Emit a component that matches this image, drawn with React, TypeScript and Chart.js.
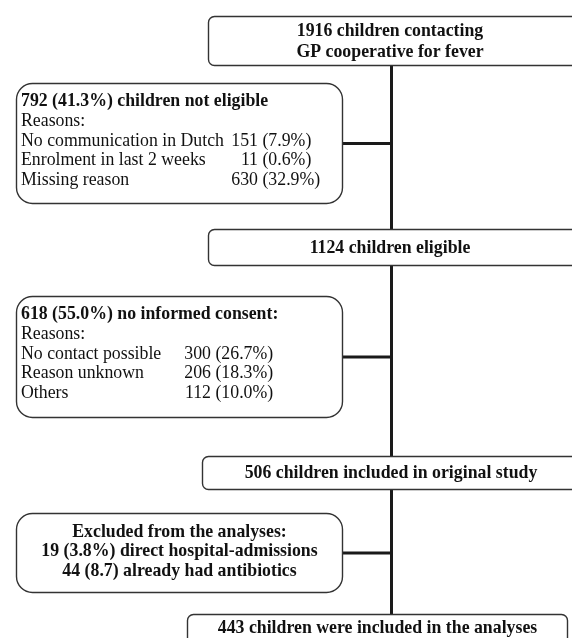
import React, { useEffect, useRef } from "react";
import { Chart, registerables } from "chart.js";

Chart.register(...registerables);

// ---- data ----
const stageCounts = [1916, 1124, 506, 443];
const stageLabels = [
  ["children contacting", "GP cooperative for fever"],
  ["children eligible"],
  ["children included in original study"],
  ["children were included in the analyses"],
];

const notEligibleTotal = 792;
const notEligiblePct = "41.3";
const notEligibleReasons = ["No communication in Dutch", "Enrolment in last 2 weeks", "Missing reason"];
const notEligibleCounts = [151, 11, 630];
const notEligiblePcts = ["7.9", "0.6", "32.9"];

const noConsentTotal = 618;
const noConsentPct = "55.0";
const noConsentReasons = ["No contact possible", "Reason unknown", "Others"];
const noConsentCounts = [300, 206, 112];
const noConsentPcts = ["26.7", "18.3", "10.0"];

const excludedTitle = "Excluded from the analyses:";
const excludedLabels = ["direct hospital-admissions", "already had antibiotics"];
const excludedCounts = [19, 44];
const excludedPcts = ["3.8%", "8.7"];

// ---- layout (canvas units on the hidden linear scales) ----
const W = 572;
const H = 638;
const TRUNK_X = 391.5;
const mainBoxes = [
  { x0: 208.5, x1: 600, y0: 16.5, y1: 65.5, r: 6, tx: 390 },
  { x0: 208.5, x1: 600, y0: 229.5, y1: 265.5, r: 6, tx: 390 },
  { x0: 202.5, x1: 600, y0: 456.5, y1: 489.5, r: 6, tx: 391 },
  { x0: 187.5, x1: 567.5, y0: 614.5, y1: 670, r: 6, tx: 377.5 },
];
const sideBoxes = [
  { x0: 16.5, x1: 342.5, y0: 83.5, y1: 203.5, r: 16 },
  { x0: 16.5, x1: 342.5, y0: 296.5, y1: 417.5, r: 16 },
  { x0: 16.5, x1: 342.5, y0: 513.5, y1: 592.5, r: 16 },
];

const SERIF = '"Liberation Serif", "Times New Roman", Times, serif';
const FS = 17.8;
const LH = 19.75;

export default function App() {
  const ref = useRef<HTMLCanvasElement>(null);

  useEffect(() => {
    const canvas = ref.current;
    if (!canvas) return;

    const flowPlugin = {
      id: "flowBoxes",
      afterDatasetsDraw(chart: any) {
        const { ctx, scales } = chart;
        const sx = scales.x;
        const sy = scales.y;
        const px = (v: number) => sx.getPixelForValue(v);
        const py = (v: number) => sy.getPixelForValue(v);

        ctx.save();
        const drawBox = (b: any) => {
          const x = px(b.x0);
          const y = py(b.y0);
          const w = px(b.x1) - x;
          const h = py(b.y1) - y;
          ctx.beginPath();
          ctx.roundRect(x, y, w, h, b.r);
          ctx.fillStyle = "#ffffff";
          ctx.fill();
          ctx.lineWidth = 1.4;
          ctx.strokeStyle = "#333333";
          ctx.stroke();
        };
        mainBoxes.forEach(drawBox);
        sideBoxes.forEach(drawBox);

        ctx.fillStyle = "#111111";
        ctx.textBaseline = "middle";
        const bold = `bold ${FS}px ${SERIF}`;
        const reg = `${FS}px ${SERIF}`;

        // main boxes
        ctx.font = bold;
        ctx.textAlign = "center";
        stageLabels.forEach((lines, i) => {
          const b = mainBoxes[i];
          const cy = i === 3 ? 628 : (b.y0 + b.y1) / 2 + 0.5;
          const texts = lines.map((l, j) => (j === 0 ? `${stageCounts[i]} ${l}` : l));
          const n = texts.length;
          texts.forEach((t, j) => {
            const yy = cy + (j - (n - 1) / 2) * 21;
            ctx.fillText(t, px(b.tx), py(yy));
          });
        });

        // reason boxes
        const drawReasons = (
          b: any,
          total: number,
          pct: string,
          titleTail: string,
          labels: string[],
          counts: number[],
          pcts: string[],
          countRight: number
        ) => {
          const left = b.x0 + 4.5;
          let y = b.y0 + 18;
          ctx.textAlign = "left";
          ctx.font = bold;
          ctx.fillText(`${total} (${pct}%) ${titleTail}`, px(left), py(y));
          ctx.font = reg;
          y += LH;
          ctx.fillText("Reasons:", px(left), py(y));
          labels.forEach((l, i) => {
            y += LH;
            ctx.textAlign = "left";
            ctx.fillText(l, px(left), py(y));
            ctx.textAlign = "right";
            ctx.fillText(String(counts[i]), px(countRight), py(y));
            ctx.textAlign = "left";
            ctx.fillText(` (${pcts[i]}%)`, px(countRight), py(y));
          });
        };
        drawReasons(sideBoxes[0], notEligibleTotal, notEligiblePct, "children not eligible",
          notEligibleReasons, notEligibleCounts, notEligiblePcts, 258);
        drawReasons(sideBoxes[1], noConsentTotal, noConsentPct, "no informed consent:",
          noConsentReasons, noConsentCounts, noConsentPcts, 211);

        // excluded box
        const eb = sideBoxes[2];
        const ecx = (eb.x0 + eb.x1) / 2;
        ctx.font = bold;
        ctx.textAlign = "center";
        const exLines = [
          excludedTitle,
          ...excludedLabels.map((l, i) => `${excludedCounts[i]} (${excludedPcts[i]}) ${l}`),
        ];
        exLines.forEach((t, j) => {
          ctx.fillText(t, px(ecx), py(eb.y0 + 18.5 + j * LH));
        });
        ctx.restore();
      },
    };

    const lineStyle = {
      showLine: true,
      borderColor: "#1a1a1a",
      borderWidth: 3,
      pointRadius: 0,
      pointHoverRadius: 0,
      fill: false,
    };

    const datasets: any[] = [
      {
        ...lineStyle,
        label: "trunk",
        data: [
          { x: TRUNK_X, y: mainBoxes[0].y1 },
          { x: TRUNK_X, y: mainBoxes[3].y0 },
        ],
      },
      ...sideBoxes.map((b, i) => ({
        ...lineStyle,
        label: `branch${i}`,
        data: [
          { x: b.x1, y: (b.y0 + b.y1) / 2 },
          { x: TRUNK_X + 1.5, y: (b.y0 + b.y1) / 2 },
        ],
      })),
    ];

    const chart = new Chart(canvas, {
      type: "scatter",
      data: { datasets },
      options: {
        animation: false,
        responsive: false,
        maintainAspectRatio: false,
        layout: { padding: 0 },
        events: [],
        plugins: {
          legend: { display: false },
          tooltip: { enabled: false },
          title: { display: false },
        },
        scales: {
          x: { type: "linear", min: 0, max: W, display: false },
          y: { type: "linear", min: 0, max: H, reverse: true, display: false },
        },
      },
      plugins: [flowPlugin],
    });

    return () => chart.destroy();
  }, []);

  return (
    <div style={{ position: "absolute", left: 0, top: 0, width: W, height: H, background: "#ffffff" }}>
      <canvas ref={ref} width={W} height={H} style={{ display: "block" }} />
    </div>
  );
}
